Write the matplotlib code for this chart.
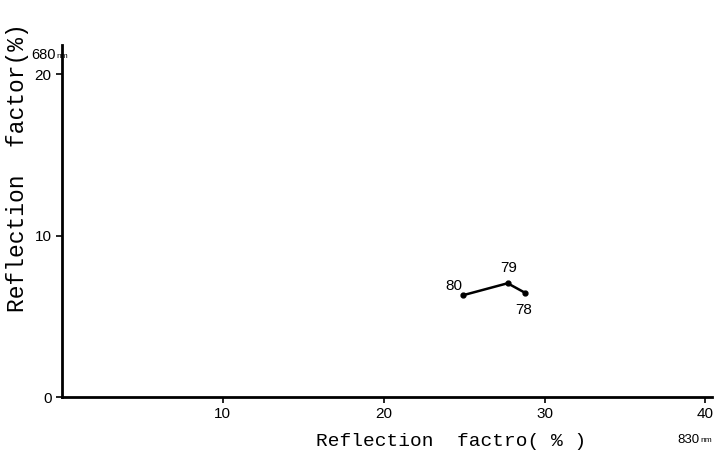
import matplotlib
matplotlib.use("Agg")
import matplotlib.pyplot as plt

# data
reflect_830 = [24.9, 27.7, 28.8]
reflect_680 = [6.3, 7.05, 6.45]
point_labels = ["80", "79", "78"]
label_offsets = [(-6, 7), (1, 11), (-1, -12)]

x_ticks = [10, 20, 30, 40]
y_ticks = [0, 10, 20]

fig = plt.figure(figsize=(7.15, 4.51), dpi=100)
ax = fig.add_axes([0.0867, 0.1197, 0.909, 0.780])

ax.plot(reflect_830, reflect_680, color="black", lw=1.8,
        marker="o", ms=3.5, solid_capstyle="round")
for x, y, lab, off in zip(reflect_830, reflect_680, point_labels, label_offsets):
    ax.annotate(lab, (x, y), xytext=off, textcoords="offset points",
                ha="center", va="center", fontsize=11, family="Liberation Sans")

ax.set_xlim(0, 40.4)
ax.set_ylim(0, 21.8)
ax.set_xticks(x_ticks)
ax.set_yticks(y_ticks)
ax.tick_params(direction="out", length=4, width=1.2, labelsize=11)
for t in ax.get_xticklabels() + ax.get_yticklabels():
    t.set_family("Liberation Sans")
ax.spines["top"].set_visible(False)
ax.spines["right"].set_visible(False)
ax.spines["left"].set_linewidth(2)
ax.spines["bottom"].set_linewidth(2)

fig.text(451 / 715, 1 - 441 / 451, "Reflection  factro( % )",
         ha="center", va="center", fontsize=14, family="Liberation Mono")
fig.text(18 / 715, 1 - 168 / 451, "Reflection  factor(%)",
         ha="center", va="center", rotation=90, fontsize=16.5, family="Liberation Mono")
fig.text(56 / 715, 1 - 55 / 451, "680", ha="right", va="center",
         fontsize=10.5, family="Liberation Sans")
fig.text(56 / 715, 1 - 56 / 451, "nm", ha="left", va="center",
         fontsize=6, family="Liberation Sans")
fig.text(700 / 715, 1 - 440 / 451, "830", ha="right", va="center",
         fontsize=9.5, family="Liberation Sans")
fig.text(700 / 715, 1 - 441 / 451, "nm", ha="left", va="center",
         fontsize=6, family="Liberation Sans")

fig.savefig("out.png", dpi=100)
